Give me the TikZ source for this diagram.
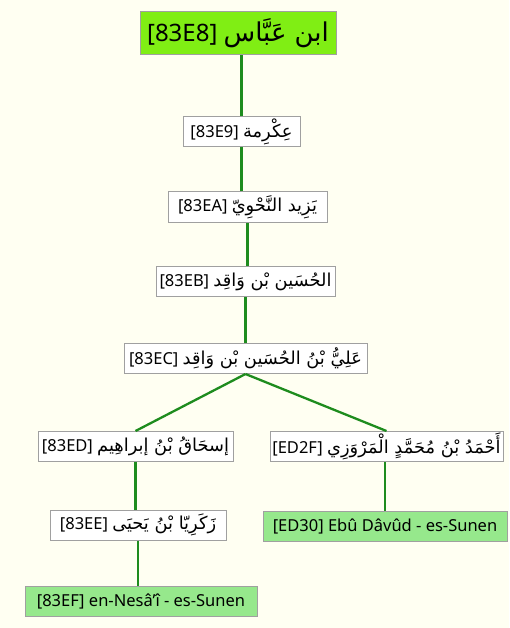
\documentclass[tikz,border=0pt]{standalone}
\usepackage{fontspec}
\setmainfont{Noto Sans}
\newfontfamily\arabicfont[Script=Arabic,Scale=1.08]{DejaVu Sans}
\TeXXeTstate=1
\newcommand\artext[1]{{\arabicfont\beginR #1\endR}}
\definecolor{paper}{RGB}{255,255,242}
\definecolor{rootgreen}{RGB}{128,238,20}
\definecolor{bookgreen}{RGB}{150,232,140}
\definecolor{linkgreen}{RGB}{30,140,30}
\definecolor{boxline}{RGB}{160,160,160}
\tikzset{
  narrator/.style={draw=boxline, line width=1pt, fill=white, inner sep=0pt,
    minimum height=30pt, font=\fontsize{16.5}{19}\selectfont, align=center},
  rootbox/.style={narrator, fill=rootgreen, minimum height=43pt,
    font=\fontsize{24}{28}\selectfont},
  bookbox/.style={narrator, fill=bookgreen},
  link/.style={draw=linkgreen, line width=2.3pt}
}
\begin{document}
\begin{tikzpicture}[x=1pt,y=-1pt]
\fill[paper] (0,0) rectangle (509,628);
\useasboundingbox (0,0) rectangle (509,628);

\node[rootbox, minimum width=196pt] (n1) at (238,33) {[83E8] \artext{ابن عَبَّاس}};
\node[narrator, minimum width=117pt] (n2) at (241.5,132) {[83E9] \artext{عِكْرِمة}};
\node[narrator, minimum width=159pt] (n3) at (247.5,207) {[83EA] \artext{يَزِيد النَّحْوِيّ}};
\node[narrator, minimum width=179pt] (n4) at (245.5,281.5) {[83EB] \artext{الحُسَين بْن وَاقِد}};
\node[narrator, minimum width=243pt] (n5) at (245.5,358.5) {[83EC] \artext{عَلِيُّ بْنُ الحُسَين بْن وَاقِد}};
\node[narrator, minimum width=195pt] (n6) at (135.5,446.5) {[83ED] \artext{إسحَاقُ بْنُ إبراهِيم}};
\node[narrator, minimum width=233pt] (n7) at (386.5,446.5) {[ED2F] \artext{أَحْمَدُ بْنُ مُحَمَّدٍ الْمَرْوَزِي}};
\node[narrator, minimum width=176pt] (n8) at (138,525) {[83EE] \artext{زَكَرِيّا بْنُ يَحيَى}};
\node[bookbox, minimum width=244pt] (n9) at (385,526) {[ED30] Ebû Dâvûd - es-Sunen};
\node[bookbox, minimum width=232pt] (n10) at (141,601) {[83EF] en-Nesâ'î - es-Sunen};

% chain of transmission
\draw[link] (n2.north) -- (n2.north |- n1.south);
\draw[link] (n3.north -| n2.south) -- (n2.south);
\draw[link] (n4.north -| n3.south) -- (n3.south);
\draw[link] (n5.north -| n4.south) -- (n4.south);
\draw[link] (n5.south) -- (n6.north);
\draw[link] (n5.south) -- (n7.north);
\draw[link] (n6.south) -- (n8.north -| n6.south);
\draw[link] (n8.south) -- (n10.north -| n8.south);
\draw[link] (n7.south -| n9.north) -- (n9.north);
\end{tikzpicture}
\end{document}
